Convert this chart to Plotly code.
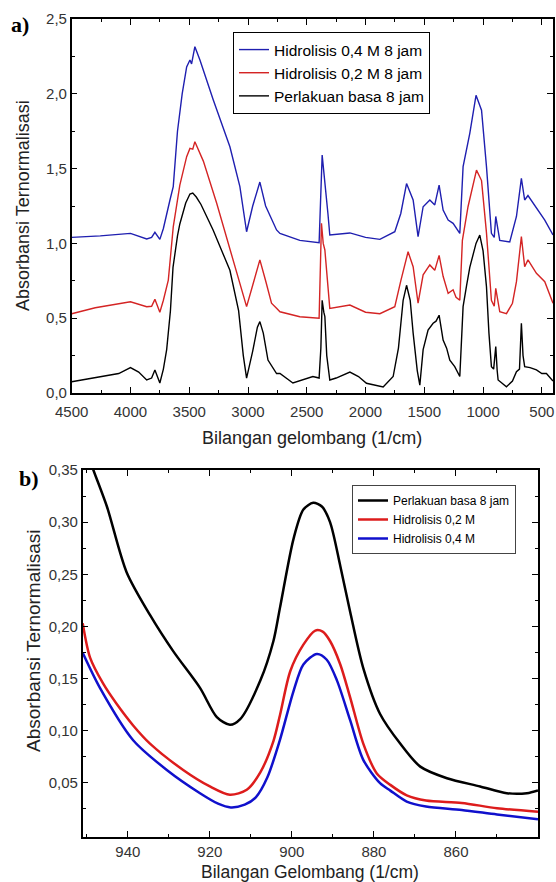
import plotly.graph_objects as go

# ---------------- Panel a) data ----------------
wn_black_a = [4500, 4300, 4257, 4100, 4000, 3930, 3862, 3820, 3792, 3770, 3750, 3720, 3692, 3660, 3638,
              3600, 3580, 3530, 3494, 3470, 3440, 3400, 3297, 3154, 3080, 3040, 3012, 2960, 2920, 2899,
              2870, 2830, 2757, 2728, 2618, 2448, 2395, 2380, 2369, 2355, 2346, 2330, 2304, 2250, 2133,
              2060, 1992, 1850, 1765, 1720, 1680, 1651, 1620, 1595, 1560, 1538, 1510, 1468, 1425, 1400,
              1374, 1340, 1310, 1283, 1241, 1198, 1170, 1140, 1113, 1060, 1028, 1000, 971, 950, 929,
              910, 892, 880, 872, 801, 750, 716, 690, 674, 660, 646, 600, 546, 500, 461, 418, 405]
ab_black_a = [0.075, 0.10, 0.109, 0.13, 0.17, 0.14, 0.087, 0.10, 0.154, 0.10, 0.067, 0.16, 0.29, 0.55, 0.84,
              1.05, 1.13, 1.27, 1.33, 1.337, 1.31, 1.26, 1.09, 0.82, 0.55, 0.25, 0.10, 0.28, 0.44, 0.477,
              0.40, 0.22, 0.13, 0.13, 0.067, 0.11, 0.10, 0.30, 0.62, 0.54, 0.51, 0.25, 0.087, 0.10, 0.14,
              0.11, 0.065, 0.04, 0.11, 0.30, 0.62, 0.72, 0.62, 0.40, 0.15, 0.053, 0.29, 0.42, 0.466, 0.48,
              0.52, 0.354, 0.30, 0.22, 0.176, 0.11, 0.577, 0.72, 0.84, 1.0, 1.056, 0.95, 0.71, 0.40, 0.176,
              0.16, 0.31, 0.15, 0.087, 0.042, 0.08, 0.142, 0.16, 0.466, 0.25, 0.176, 0.17, 0.154, 0.13, 0.13, 0.087, 0.08]

wn_red_a = [4500, 4300, 4000, 3862, 3820, 3792, 3750, 3720, 3678, 3636, 3580, 3522, 3494, 3470, 3452,
            3420, 3380, 3267, 3126, 3060, 3012, 2960, 2899, 2850, 2800, 2757, 2728, 2559, 2395, 2375,
            2360, 2346, 2320, 2304, 2133, 2000, 1878, 1751, 1700, 1638, 1595, 1553, 1510, 1453, 1411,
            1374, 1340, 1297, 1255, 1230, 1198, 1176, 1128, 1056, 1013, 971, 929, 905, 892, 858,
            801, 750, 716, 674, 646, 618, 546, 475, 405]
ab_red_a = [0.53, 0.57, 0.61, 0.577, 0.58, 0.626, 0.54, 0.62, 0.755, 1.11, 1.39, 1.58, 1.635, 1.63, 1.68,
            1.62, 1.55, 1.27, 0.89, 0.70, 0.577, 0.72, 0.89, 0.75, 0.60, 0.566, 0.543, 0.51, 0.50, 1.134,
            1.0, 0.956, 0.70, 0.566, 0.588, 0.54, 0.53, 0.577, 0.75, 0.944, 0.844, 0.60, 0.79, 0.856, 0.82,
            0.92, 0.78, 0.666, 0.69, 0.64, 0.62, 1.02, 1.245, 1.49, 1.42, 1.07, 0.62, 0.58, 0.70, 0.543,
            0.53, 0.60, 0.744, 1.045, 0.844, 0.89, 0.80, 0.744, 0.60]

wn_blue_a = [4500, 4257, 4000, 3862, 3820, 3792, 3750, 3720, 3664, 3636, 3600, 3560, 3522, 3494, 3480,
             3452, 3409, 3296, 3154, 3069, 3012, 2960, 2899, 2850, 2757, 2728, 2559, 2395, 2369, 2355,
             2346, 2320, 2304, 2133, 2000, 1878, 1751, 1700, 1651, 1595, 1553, 1510, 1453, 1411, 1374,
             1340, 1297, 1255, 1198, 1170, 1113, 1060, 1013, 971, 929, 905, 892, 858, 773, 716,
             674, 646, 618, 546, 475, 405]
ab_blue_a = [1.04, 1.05, 1.067, 1.03, 1.04, 1.074, 1.027, 1.10, 1.29, 1.38, 1.75, 2.0, 2.18, 2.226, 2.2,
             2.315, 2.226, 1.96, 1.646, 1.38, 1.078, 1.25, 1.41, 1.25, 1.09, 1.067, 1.02, 1.005, 1.59, 1.48,
             1.446, 1.20, 1.056, 1.07, 1.04, 1.027, 1.078, 1.20, 1.40, 1.29, 1.045, 1.245, 1.29, 1.257, 1.39,
             1.223, 1.156, 1.134, 1.067, 1.513, 1.736, 1.99, 1.89, 1.513, 1.067, 1.04, 1.18, 1.02, 1.01, 1.18,
             1.435, 1.29, 1.32, 1.235, 1.156, 1.056]

# ---------------- Panel b) data ----------------
wn_black_b = [951, 948.4, 945.1, 940.3, 934.6, 928.9, 922.4, 918.3, 915.1, 912.6, 907.7, 904.5, 902.9,
              899.6, 897.2, 894.8, 892.7, 890.7, 888.2, 885.8, 882.6, 878.5, 873.6, 868.7, 862.2,
              854.1, 847.6, 842.7, 840]
ab_black_b = [0.378, 0.35, 0.315, 0.252, 0.211, 0.176, 0.141, 0.113, 0.1056, 0.111, 0.148, 0.186, 0.218,
              0.284, 0.312, 0.3185, 0.315, 0.30, 0.258, 0.214, 0.160, 0.116, 0.0876, 0.0655, 0.0544,
              0.0465, 0.040, 0.040, 0.0427]

wn_red_b = [951, 949.2, 946, 942.7, 938.7, 934.6, 926.5, 920, 915.1, 911, 907.7, 904.5, 902.9, 900.4,
            897.2, 894.3, 892.5, 890.7, 888.2, 885.8, 882.6, 879.3, 876, 872, 867.3, 858.6, 850, 840]
ab_red_b = [0.203, 0.17, 0.145, 0.1255, 0.105, 0.0876, 0.0623, 0.0465, 0.0385, 0.0433, 0.06, 0.09, 0.115,
            0.157, 0.1825, 0.196, 0.195, 0.186, 0.1635, 0.132, 0.0876, 0.059, 0.048, 0.038, 0.033,
            0.0307, 0.0256, 0.0223]

wn_blue_b = [951, 946.8, 938.7, 930.5, 922.4, 918, 914.9, 911.5, 908.8, 906, 903, 899.6, 897.2, 893.9,
             891.5, 889, 885.8, 882.6, 878.5, 876, 872, 867.3, 858.6, 850, 840]
ab_blue_b = [0.1746, 0.141, 0.0908, 0.0623, 0.04, 0.030, 0.0264, 0.029, 0.036, 0.055, 0.09, 0.138, 0.1635,
             0.1736, 0.168, 0.148, 0.11, 0.072, 0.0496, 0.0425, 0.032, 0.0273, 0.024, 0.0196, 0.015]

xticks_b = [940, 920, 900, 880, 860]
yticks_b = [0.05, 0.10, 0.15, 0.20, 0.25, 0.30, 0.35]

FONT = "Arial, Liberation Sans, sans-serif"
W, H = 556, 882

fig = go.Figure()

# Panel a traces (legend order: blue, red, black)
fig.add_trace(go.Scatter(x=wn_blue_a, y=ab_blue_a, mode="lines", name="Hidrolisis 0,4 M 8 jam",
                         line=dict(color="#1f1fb0", width=1.4), xaxis="x", yaxis="y", legend="legend"))
fig.add_trace(go.Scatter(x=wn_red_a, y=ab_red_a, mode="lines", name="Hidrolisis 0,2 M 8 jam",
                         line=dict(color="#d42424", width=1.4), xaxis="x", yaxis="y", legend="legend"))
fig.add_trace(go.Scatter(x=wn_black_a, y=ab_black_a, mode="lines", name="Perlakuan basa 8 jam",
                         line=dict(color="#000000", width=1.4), xaxis="x", yaxis="y", legend="legend"))

# Panel b traces (legend order: black, red, blue)
fig.add_trace(go.Scatter(x=wn_black_b, y=ab_black_b, mode="lines", name="Perlakuan basa 8 jam",
                         line=dict(color="#000000", width=2.5, shape="spline", smoothing=0.8),
                         xaxis="x2", yaxis="y2", legend="legend2"))
fig.add_trace(go.Scatter(x=wn_red_b, y=ab_red_b, mode="lines", name="Hidrolisis 0,2 M",
                         line=dict(color="#dd1c1c", width=2.5, shape="spline", smoothing=0.8),
                         xaxis="x2", yaxis="y2", legend="legend2"))
fig.add_trace(go.Scatter(x=wn_blue_b, y=ab_blue_b, mode="lines", name="Hidrolisis 0,4 M",
                         line=dict(color="#1010cc", width=2.5, shape="spline", smoothing=0.8),
                         xaxis="x2", yaxis="y2", legend="legend2"))

axis_common = dict(showline=True, linecolor="black", linewidth=1.5, mirror="allticks",
                   ticks="inside", ticklen=6, tickwidth=1.3, tickcolor="black",
                   showgrid=False, zeroline=False, automargin=False,
                   tickfont=dict(family=FONT, size=15, color="#333333"))

fig.update_layout(
    template="none",
    width=W, height=H, autosize=False,
    margin=dict(l=0, r=0, t=0, b=0, pad=0),
    paper_bgcolor="white", plot_bgcolor="white",
    separators=",.",
    font=dict(family=FONT, color="black"),
    xaxis=dict(domain=[71.7 / W, 553 / W], range=[4500, 405], tick0=0, dtick=500, anchor="y",
               ticklabelstandoff=4,
               minor=dict(ticks="inside", ticklen=3.5, dtick=250, tick0=0, tickcolor="black"),
               **axis_common),
    yaxis=dict(domain=[1 - 393 / H, 1 - 19 / H], range=[0, 2.5], tick0=0, dtick=0.5, tickformat=".1f",
               anchor="x",
               minor=dict(ticks="inside", ticklen=3.5, dtick=0.25, tick0=0, tickcolor="black"),
               **axis_common),
    xaxis2=dict(domain=[82.7 / W, 538 / W], range=[951, 840], tickmode="array", tickvals=xticks_b,
                anchor="y2",
                minor=dict(ticks="inside", ticklen=3.5, tickmode="array",
                           tickvals=[950, 930, 910, 890, 870, 850], tickcolor="black"),
                **axis_common),
    yaxis2=dict(domain=[1 - 837 / H, 1 - 470 / H], range=[-0.002, 0.35], tickmode="array",
                tickvals=yticks_b, tickformat=".2f", anchor="x2",
                minor=dict(ticks="inside", ticklen=3.5, tickmode="array",
                           tickvals=[0.025, 0.075, 0.125, 0.175, 0.225, 0.275, 0.325], tickcolor="black"),
                **axis_common),
    legend=dict(x=233 / W, y=1 - 32 / H, xanchor="left", yanchor="top",
                bgcolor="white", bordercolor="black", borderwidth=1,
                font=dict(family=FONT, size=15.5, color="black"), tracegroupgap=0),
    legend2=dict(x=352 / W, y=1 - 485 / H, xanchor="left", yanchor="top",
                 bgcolor="white", bordercolor="#444444", borderwidth=1, itemwidth=30,
                 font=dict(family=FONT, size=12, color="black"), tracegroupgap=0),
    showlegend=True,
)

def note(text, xp, yp, size, angle=0, family=FONT, color="#222222"):
    return dict(text=text, x=xp / W, y=1 - yp / H, xref="paper", yref="paper", showarrow=False,
                xanchor="center", yanchor="middle", textangle=angle,
                font=dict(family=family, size=size, color=color))

SERIF = "Times New Roman, Liberation Serif, serif"
ann = [
    note("<b>a)</b>", 20, 25, 22, family=SERIF, color="black"),
    note("<b>b)</b>", 29, 478, 22, family=SERIF, color="black"),
    note("Absorbansi Ternormalisasi", 23, 206, 18, angle=-90),
    note("Absorbansi Ternormalisasi", 33, 641, 19, angle=-90),
    note("Bilangan gelombang (1/cm)", 312, 438, 18),
    note("Bilangan Gelombang (1/cm)", 310, 872, 17.5),
]
fig.update_layout(annotations=ann)

fig.write_html("out.html")
